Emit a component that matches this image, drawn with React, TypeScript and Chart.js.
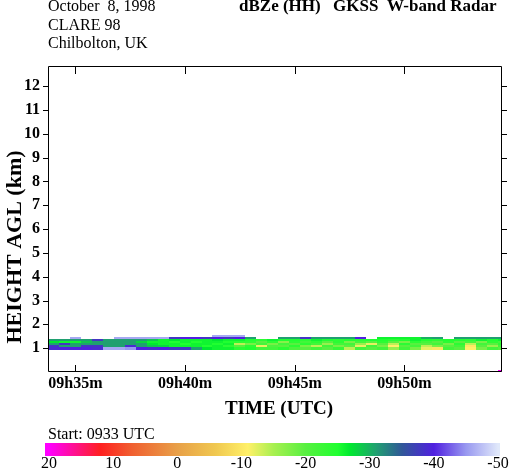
import { useEffect, useRef } from 'react';
import { Chart, registerables } from 'chart.js';

Chart.register(...registerables);

const FONT = '"Liberation Serif", "Times New Roman", serif';

// Axis ranges (minutes after 09:00 UTC, km)
const TIME_MIN = 33.75;
const TIME_MAX = 54.45;
const HEIGHT_MIN = 0;
const HEIGHT_MAX = 12.8;

const X_TICKS = [35, 40, 45, 50];
const X_TICK_LABELS = ['09h35m', '09h40m', '09h45m', '09h50m'];
const Y_TICKS = [1, 2, 3, 4, 5, 6, 7, 8, 9, 10, 11, 12];
const COLORBAR_LABELS = [20, 10, 0, -10, -20, -30, -40, -50];

// Radar cells: column start times (min after 09:00), each 0.5 min wide
const COL_WIDTH = 0.5;
const COL_TIMES = [
  33.75, 34.25, 34.75, 35.25, 35.75, 36.25, 36.75, 37.25, 37.75, 38.25,
  38.75, 39.25, 39.75, 40.25, 40.75, 41.25, 41.75, 42.25, 42.75, 43.25,
  43.75, 44.25, 44.75, 45.25, 45.75, 46.25, 46.75, 47.25, 47.75, 48.25,
  48.75, 49.25, 49.75, 50.25, 50.75, 51.25, 51.75, 52.25, 52.75, 53.25,
  53.75, 54.25,
];
// Range gate bottoms (km), each 0.09 km deep
const ROW_DEPTH = 0.09;
const ROW_BASES = [0.94, 1.03, 1.12, 1.21, 1.30, 1.39, 1.48];

// dBZe per column, one array per range gate (bottom to top)
const ROW0 = [
  -39, -40, -40, -40, -39, -46, -46, -45, -40, -39,
  -40, -38, -38, -31, -27, -26, -26, -24, -25, -22,
  -22, -24, -21, -20, -22, -20, -23, -14, -22, -20,
  -22, -16, -22, -18, -12, -10, -22, -20, -11, -18,
  -22, -20,
];
const ROW1 = [
  -38, -31, -31, -38, -38, -31, -31, -39, -31, -29,
  -28, -26, -26, -26, -25, -26, -24, -20, -24, -12,
  -21, -20, -24, -18, -14, -22, -18, -20, -12, -22,
  -18, -11, -20, -22, -14, -18, -20, -22, -10, -20,
  -16, -22,
];
const ROW2 = [
  -31, -38, -31, -31, -31, -31, -31, -31, -31, -27,
  -26, -26, -25, -26, -26, -25, -26, -14, -18, -22,
  -18, -22, -20, -24, -22, -16, -22, -22, -16, -12,
  -20, -14, -24, -20, -20, -22, -18, -24, -14, -22,
  -20, -24,
];
const ROW3 = [
  -27, -26, -26, -29, -31, -31, -31, -31, -28, -26,
  -26, -25, -26, -25, -26, -26, -25, -24, -24, -20,
  -24, -17, -24, -22, -24, -20, -24, -18, -22, -20,
  -24, -20, -18, -24, -22, -20, -24, -20, -22, -18,
  -24, -22,
];
const ROW4 = [
  -31, -31, -31, -31, -38, -31, -31, -31, -31, -29,
  -26, -27, -26, -26, -26, -27, -26, -26, -25, -24,
  -26, -25, -25, -24, -26, -25, -24, -25, -24, -25,
  -25, -24, -25, -26, -25, -24, -25, -25, -24, -26,
  -25, -26,
];
const ROW5 = [
  null, null, -46, null, null, null, -46, -46, -46, -46,
  -46, -38, -40, -40, -38, -40, -38, -40, -31, null,
  null, -31, -31, -38, -31, -31, -31, -31, -40, null,
  -26, -26, -26, -26, -30, -31, null, -31, -31, -31,
  -31, -31,
];
const ROW6 = [
  null, null, null, null, null, null, null, null, null, null,
  null, null, null, null, null, -46, -46, -46, null, null,
  null, null, null, null, null, null, null, null, null, null,
  null, null, null, null, null, null, null, null, null, null,
  null, null,
];
const ROWS = [ROW0, ROW1, ROW2, ROW3, ROW4, ROW5, ROW6];

// Isolated strong return at the end of the record, near the ground
const SPECKLE_TIMES = [54.25];
const SPECKLE_HEIGHTS = [0];
const SPECKLE_VALUES = [20];
const SPECKLE_WIDTH = 0.2;
const SPECKLE_DEPTH = 0.1;

// Colour table (dBZe -> colour)
const CMAP_VALUES = [20, 12, 7, 0, -6, -11, -15, -20, -25, -27, -31, -35, -40, -45, -50];
const CMAP_COLORS = [
  '#ff00ff', '#ff2020', '#f06030', '#e8a048', '#f0c850', '#fff068', '#a8f050',
  '#58f040', '#20ff30', '#00e830', '#20a070', '#305898', '#5020e0', '#9898f0', '#e0e8fa',
];

function hexToRgb(h: string) {
  const n = parseInt(h.slice(1), 16);
  return [(n >> 16) & 255, (n >> 8) & 255, n & 255];
}

function colorFor(v: number) {
  if (v >= CMAP_VALUES[0]) return CMAP_COLORS[0];
  const last = CMAP_VALUES.length - 1;
  if (v <= CMAP_VALUES[last]) return CMAP_COLORS[last];
  for (let i = 0; i < last; i++) {
    const a = CMAP_VALUES[i];
    const b = CMAP_VALUES[i + 1];
    if (v <= a && v >= b) {
      const f = (a - v) / (a - b);
      const ca = hexToRgb(CMAP_COLORS[i]);
      const cb = hexToRgb(CMAP_COLORS[i + 1]);
      const c = ca.map((x, k) => Math.round(x + (cb[k] - x) * f));
      return `rgb(${c[0]},${c[1]},${c[2]})`;
    }
  }
  return CMAP_COLORS[last];
}

type Cell = { x: number; y: number; v: number; w: number; d: number };

function buildCells(): Cell[] {
  const cells: Cell[] = [];
  ROWS.forEach((row, r) => {
    row.forEach((v, c) => {
      if (v === null || v === undefined) return;
      cells.push({ x: COL_TIMES[c], y: ROW_BASES[r], v: v as number, w: COL_WIDTH, d: ROW_DEPTH });
    });
  });
  SPECKLE_TIMES.forEach((t, i) => {
    cells.push({ x: t, y: SPECKLE_HEIGHTS[i], v: SPECKLE_VALUES[i], w: SPECKLE_WIDTH, d: SPECKLE_DEPTH });
  });
  return cells;
}

const cellPlugin = {
  id: 'radarCells',
  beforeDatasetsDraw(chart: any) {
    const { ctx, chartArea } = chart;
    const xs = chart.scales.x;
    const ys = chart.scales.y;
    const cells: Cell[] = chart.data.datasets[0].data;
    ctx.save();
    ctx.beginPath();
    ctx.rect(chartArea.left, chartArea.top, chartArea.right - chartArea.left, chartArea.bottom - chartArea.top);
    ctx.clip();
    cells.forEach((c) => {
      const x1 = Math.round(xs.getPixelForValue(c.x));
      const x2 = Math.round(xs.getPixelForValue(c.x + c.w));
      const y1 = Math.round(ys.getPixelForValue(c.y + c.d));
      const y2 = Math.round(ys.getPixelForValue(c.y));
      ctx.fillStyle = colorFor(c.v);
      ctx.fillRect(x1, y1, x2 - x1, y2 - y1);
    });
    ctx.restore();
  },
};

const decorPlugin = {
  id: 'decor',
  afterDraw(chart: any) {
    const { ctx, chartArea } = chart;
    const xs = chart.scales.x;
    const ys = chart.scales.y;
    const L = chartArea.left;
    const R = chartArea.right;
    const T = chartArea.top;
    const B = chartArea.bottom;
    ctx.save();
    ctx.strokeStyle = '#000';
    ctx.lineWidth = 1;
    ctx.beginPath();
    ctx.rect(L + 0.5, T - 0.5, R - L - 1, B - T);
    ctx.stroke();
    // x ticks, inward top and bottom
    ctx.beginPath();
    X_TICKS.forEach((t) => {
      const px = Math.round(xs.getPixelForValue(t)) + 0.5;
      ctx.moveTo(px, B);
      ctx.lineTo(px, B - 7);
      ctx.moveTo(px, T);
      ctx.lineTo(px, T + 7);
    });
    // y ticks, outward left and right
    Y_TICKS.forEach((h) => {
      const py = Math.round(ys.getPixelForValue(h)) + 0.5;
      ctx.moveTo(L - 5, py);
      ctx.lineTo(L, py);
      ctx.moveTo(R, py);
      ctx.lineTo(R + 5, py);
    });
    ctx.stroke();

    ctx.fillStyle = '#000';
    // x tick labels
    ctx.font = `bold 16px ${FONT}`;
    ctx.textAlign = 'center';
    ctx.textBaseline = 'alphabetic';
    X_TICKS.forEach((t, i) => {
      ctx.fillText(X_TICK_LABELS[i], xs.getPixelForValue(t), 388);
    });

    // axis titles
    ctx.font = `bold 19px ${FONT}`;
    ctx.fillText('TIME (UTC)', 279, 414);
    ctx.save();
    ctx.translate(21, 247);
    ctx.rotate(-Math.PI / 2);
    ctx.font = `bold 22px ${FONT}`;
    ctx.fillText('HEIGHT AGL (km)', 0, 0);
    ctx.restore();

    // header
    ctx.textAlign = 'left';
    ctx.font = `16px ${FONT}`;
    ctx.fillText('October  8, 1998', 48, 11);
    ctx.fillText('CLARE 98', 48, 30);
    ctx.fillText('Chilbolton, UK', 48, 48);
    ctx.font = `bold 17px ${FONT}`;
    ctx.fillText('dBZe (HH)', 239, 11);
    ctx.fillText('GKSS', 333, 11);
    ctx.fillText('W-band Radar', 387, 11);

    // colour bar
    ctx.font = `16px ${FONT}`;
    ctx.fillText('Start: 0933 UTC', 48, 439);
    const cbx = (v: number) => 49 + (20 - v) * (449 / 70);
    const g = ctx.createLinearGradient(cbx(20), 0, cbx(-50), 0);
    CMAP_VALUES.forEach((v, i) => g.addColorStop((20 - v) / 70, CMAP_COLORS[i]));
    ctx.fillStyle = g;
    ctx.fillRect(45, 443, 455, 13);
    ctx.fillStyle = '#000';
    ctx.textAlign = 'center';
    COLORBAR_LABELS.forEach((v) => {
      ctx.fillText(String(v), cbx(v), 468);
    });
    ctx.restore();
  },
};

export default function App() {
  const ref = useRef<HTMLCanvasElement | null>(null);
  useEffect(() => {
    if (!ref.current) return;
    const chart = new Chart(ref.current, {
      type: 'scatter',
      data: {
        datasets: [
          {
            data: buildCells() as any,
            pointRadius: 0,
            pointHoverRadius: 0,
          },
        ],
      },
      options: {
        animation: false,
        responsive: false,
        devicePixelRatio: 1,
        events: [],
        layout: { padding: { top: 67, right: 7, bottom: 104, left: 0 } },
        plugins: { legend: { display: false }, tooltip: { enabled: false } },
        scales: {
          x: {
            type: 'linear',
            min: TIME_MIN,
            max: TIME_MAX,
            grid: { display: false, drawTicks: false },
            border: { display: false },
            afterBuildTicks: (s: any) => {
              s.ticks = X_TICKS.map((v) => ({ value: v }));
            },
            afterFit: (s: any) => {
              s.height = 0;
            },
            ticks: { display: false },
          },
          y: {
            type: 'linear',
            min: HEIGHT_MIN,
            max: HEIGHT_MAX,
            grid: { display: false, drawTicks: false },
            border: { display: false },
            afterBuildTicks: (s: any) => {
              s.ticks = Y_TICKS.map((v) => ({ value: v }));
            },
            afterFit: (s: any) => {
              s.width = 48;
            },
            ticks: {
              color: '#000',
              padding: 8,
              autoSkip: false,
              font: { family: FONT, size: 16, weight: 'bold' },
              callback: (v: any) => String(v),
            },
          },
        },
      },
      plugins: [cellPlugin, decorPlugin],
    });
    return () => chart.destroy();
  }, []);
  return (
    <div style={{ position: 'absolute', left: 0, top: 0, width: 509, height: 476, background: '#fff' }}>
      <canvas ref={ref} width={509} height={476} style={{ width: 509, height: 476, display: 'block' }} />
    </div>
  );
}
